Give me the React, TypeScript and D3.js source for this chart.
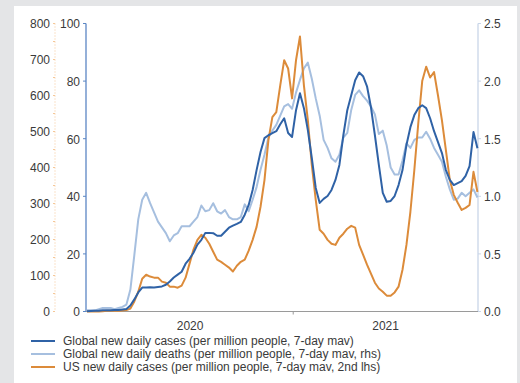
import React from "react";
import * as d3 from "d3";

const START = new Date(2020, 0, 1);
const END = new Date(2021, 10, 25);

// Weekly observations starting 2020-01-01
const globalCases = [
  0.1, 0.2, 0.3, 0.3, 0.4, 0.4, 0.4, 0.5, 0.5, 0.7,
  0.9, 2.1, 4.2, 6.6, 8.3, 8.3, 8.4, 8.3, 8.5, 8.7,
  9.3, 10.4, 11.8, 12.8, 13.8, 16.6, 18.3, 20.4, 23.2, 24.9,
  27.3, 27.3, 27.2, 26.3, 26.3, 27.7, 29.1, 29.8, 30.4, 31.1,
  33.6, 37.0, 42.2, 49.1, 55.4, 60.2, 61.2, 61.9, 62.6, 65.0,
  67.1, 62.0, 60.6, 69.9, 75.8, 70.6, 63.0, 53.3, 42.9, 37.7,
  39.1, 40.1, 42.2, 45.7, 50.9, 61.2, 69.9, 75.1, 80.3, 83.0,
  81.7, 78.2, 70.9, 61.2, 50.9, 41.2, 38.1, 38.4, 40.1, 43.9,
  49.1, 57.8, 64.0, 68.2, 70.6, 71.6, 70.6, 67.1, 62.6, 58.8,
  55.0, 49.1, 45.7, 43.9, 44.6, 45.3, 47.1, 50.5, 62.3, 56.7,
];

const globalDeaths = [
  0.01, 0.01, 0.01, 0.02, 0.03, 0.03, 0.03, 0.02, 0.03, 0.04,
  0.06, 0.19, 0.49, 0.8, 0.97, 1.03, 0.94, 0.86, 0.78, 0.73,
  0.68, 0.61, 0.66, 0.68, 0.74, 0.74, 0.74, 0.78, 0.82, 0.92,
  0.87, 0.88, 0.94, 0.87, 0.85, 0.88, 0.82, 0.8, 0.8, 0.82,
  0.93, 0.87, 0.97, 1.08, 1.23, 1.36, 1.51, 1.57, 1.62, 1.7,
  1.78, 1.8, 1.76, 1.9, 2.01, 2.11, 2.16, 2.02, 1.85, 1.7,
  1.49, 1.42, 1.33, 1.3, 1.36, 1.51, 1.55, 1.75, 1.88, 1.92,
  1.87, 1.83, 1.78, 1.71, 1.54, 1.57, 1.44, 1.25, 1.19, 1.19,
  1.31, 1.46, 1.42, 1.49, 1.51, 1.51, 1.56, 1.5, 1.42, 1.36,
  1.3, 1.17, 1.06, 0.97, 0.98, 1.03, 1.0, 1.03, 1.06, 0.99,
];

const usCases = [
  0, 0, 0, 0, 1, 2, 2, 2, 2, 3,
  4, 8, 28, 55, 91, 102, 97, 94, 94, 83,
  80, 69, 69, 66, 72, 94, 133, 172, 199, 213,
  205, 188, 166, 144, 138, 130, 122, 111, 127, 138,
  144, 169, 199, 235, 291, 365, 476, 540, 554, 628,
  698, 675, 592, 698, 764, 628, 531, 407, 310, 227,
  216, 199, 188, 185, 205, 216, 230, 238, 233, 185,
  158, 130, 105, 80, 64, 55, 44, 44, 53, 69,
  116, 185, 277, 393, 523, 640, 680, 650, 665, 600,
  531, 448, 365, 324, 302, 282, 288, 296, 388, 332,
];

const dates = globalCases.map((_, i) => d3.timeDay.offset(START, 7 * i));

const leftTicks = [0, 20, 40, 60, 80, 100];
const outerTicks = [0, 100, 200, 300, 400, 500, 600, 700, 800];
const rightTicks = [0, 0.5, 1.0, 1.5, 2.0, 2.5];
const yearLabels = ["2020", "2021"];

const legendItems = [
  { label: "Global new daily cases (per million people, 7-day mav)", color: "#2f62a6" },
  { label: "Global new daily deaths (per million people, 7-day mav, rhs)", color: "#a6bfdf" },
  { label: "US new daily cases (per million people, 7-day mav, 2nd lhs)", color: "#dc8b3a" },
];

const W = 520;
const H = 383;
const X0 = 87;
const X1 = 478;
const YB = 311.5;
const YT = 23.5;
const AX_IN = 86;
const AX_OUT = 55;
const FONT = "'Liberation Sans', Arial, sans-serif";
const TXT = "#3a3a3a";

export default function App() {
  const x = d3.scaleTime().domain([START, END]).range([X0, X1]);
  const yL = d3.scaleLinear().domain([0, 100]).range([YB, YT]);
  const yO = d3.scaleLinear().domain([0, 800]).range([YB, YT]);
  const yR = d3.scaleLinear().domain([0, 2.5]).range([YB, YT]);

  const mk = (vals: number[], y: d3.ScaleLinear<number, number>) =>
    d3
      .line<number>()
      .x((_, i) => x(dates[i]))
      .y((v) => y(v))(vals) || "";

  const yearStarts = [new Date(2020, 0, 1), new Date(2021, 0, 1), new Date(2022, 0, 1)];
  const yearCenters = yearLabels.map((_, i) => {
    const a = Math.max(x(yearStarts[i]), X0);
    const b = Math.min(x(yearStarts[i + 1]), X1);
    return (a + b) / 2;
  });

  const outerMinor = d3.range(0, 801, 50);

  return (
    <div style={{ position: "fixed", left: 0, top: 0, width: W, height: H, background: "#e4e5e7" }}>
      <svg width={W} height={H} style={{ display: "block" }} fontFamily={FONT}>
        <rect x={0} y={0} width={W} height={H} fill="#e4e5e7" />
        <rect x={14} y={6} width={503} height={H - 6} fill="#ffffff" />

        {/* outer left axis (US, 2nd lhs) */}
        <line x1={AX_OUT} x2={AX_OUT} y1={YT} y2={YB} stroke="#f5c797" strokeWidth={1} strokeDasharray="1,2" />
        {outerMinor.map((t) => (
          <line key={"om" + t} x1={AX_OUT - 2} x2={AX_OUT} y1={yO(t)} y2={yO(t)} stroke="#f5c797" strokeWidth={1} />
        ))}
        {outerTicks.map((t) => (
          <text key={"o" + t} x={AX_OUT - 5} y={yO(t)} dy="0.4em" textAnchor="end" fontSize={12} fill={TXT}>
            {t}
          </text>
        ))}

        {/* inner left axis (global cases) */}
        <line x1={AX_IN} x2={AX_IN} y1={YT} y2={YB} stroke="#5b86c4" strokeWidth={1.3} />
        {leftTicks.map((t) => (
          <g key={"l" + t}>
            <line x1={AX_IN - 3} x2={AX_IN} y1={yL(t)} y2={yL(t)} stroke="#5b86c4" strokeWidth={1} />
            <text x={AX_IN - 6} y={yL(t)} dy="0.4em" textAnchor="end" fontSize={12} fill={TXT}>
              {t}
            </text>
          </g>
        ))}

        {/* right axis (deaths) */}
        <line x1={X1} x2={X1} y1={YT} y2={YB} stroke="#c9d6e8" strokeWidth={1.3} />
        {rightTicks.map((t) => (
          <g key={"r" + t}>
            <line x1={X1} x2={X1 + 3} y1={yR(t)} y2={yR(t)} stroke="#c9d6e8" strokeWidth={1} />
            <text x={X1 + 6} y={yR(t)} dy="0.4em" textAnchor="start" fontSize={12} fill={TXT}>
              {t.toFixed(1)}
            </text>
          </g>
        ))}

        {/* x axis */}
        <line x1={AX_IN} x2={X1} y1={YB} y2={YB} stroke="#9a9a9a" strokeWidth={1.2} />
        <line x1={x(yearStarts[1])} x2={x(yearStarts[1])} y1={YB} y2={YB + 3} stroke="#9a9a9a" strokeWidth={1} />
        {yearLabels.map((l, i) => (
          <text key={l} x={yearCenters[i]} y={YB + 14} dy="0.35em" textAnchor="middle" fontSize={12} fill={TXT}>
            {l}
          </text>
        ))}

        {/* series */}
        <path d={mk(globalDeaths, yR)} fill="none" stroke={legendItems[1].color} strokeWidth={2} strokeLinejoin="round" />
        <path d={mk(usCases, yO)} fill="none" stroke={legendItems[2].color} strokeWidth={2} strokeLinejoin="round" />
        <path d={mk(globalCases, yL)} fill="none" stroke={legendItems[0].color} strokeWidth={2} strokeLinejoin="round" />

        {/* legend */}
        {legendItems.map((it, i) => (
          <g key={it.label} transform={`translate(31, ${341 + i * 13})`}>
            <line x1={0} x2={24} y1={0} y2={0} stroke={it.color} strokeWidth={2} />
            <text x={32} y={0} dy="0.36em" fontSize={12} fill={TXT}>
              {it.label}
            </text>
          </g>
        ))}
      </svg>
    </div>
  );
}
